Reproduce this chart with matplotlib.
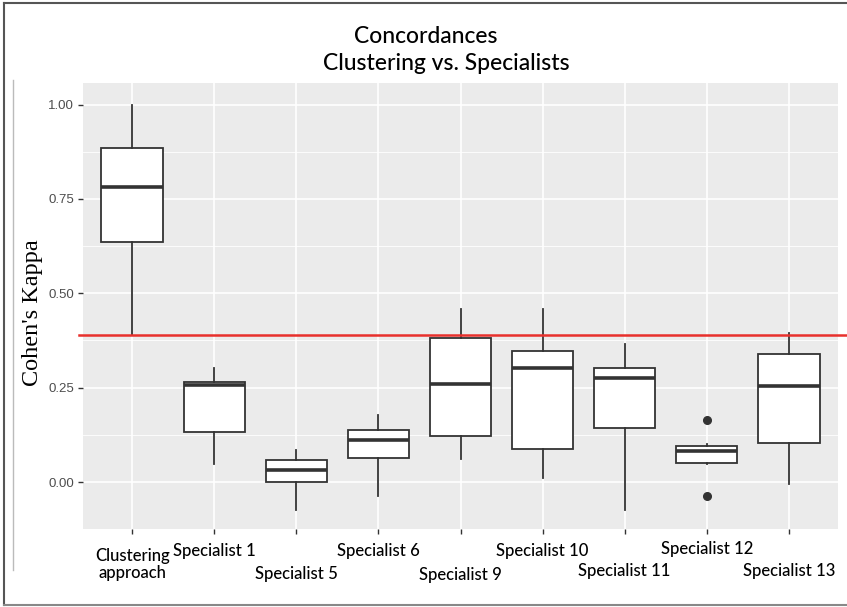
import matplotlib
matplotlib.use("Agg")
import matplotlib.pyplot as plt
import matplotlib.transforms as mtransforms
from matplotlib.lines import Line2D

# Box statistics per rater (Cohen's kappa against the reference labels)
categories = ["Clustering\napproach", "Specialist 1", "Specialist 5", "Specialist 6",
              "Specialist 9", "Specialist 10", "Specialist 11", "Specialist 12",
              "Specialist 13"]
whisker_low = [0.389, 0.048, -0.074, -0.037, 0.060, 0.010, -0.074, 0.048, -0.006]
q1 = [0.635, 0.133, 0.001, 0.063, 0.122, 0.087, 0.142, 0.051, 0.104]
median = [0.781, 0.257, 0.032, 0.110, 0.259, 0.301, 0.275, 0.081, 0.254]
q3 = [0.884, 0.266, 0.058, 0.138, 0.381, 0.348, 0.301, 0.095, 0.339]
whisker_high = [1.000, 0.301, 0.085, 0.177, 0.458, 0.458, 0.366, 0.100, 0.394]
outliers = [[], [], [], [], [], [], [], [0.163, -0.037], []]
threshold = 0.389

y_ticks = [0.0, 0.25, 0.50, 0.75, 1.00]
y_minor = [-0.125, 0.125, 0.375, 0.625, 0.875]

W, H = 847, 607
fig = plt.figure(figsize=(W / 100, H / 100), dpi=100)
ax = fig.add_axes([83 / W, 1 - 529 / H, (838 - 83) / W, (529 - 83) / H])
ax.set_facecolor("#EBEBEB")

pos = list(range(1, len(categories) + 1))
stats = []
for i in range(len(categories)):
    stats.append(dict(whislo=whisker_low[i], q1=q1[i], med=median[i], q3=q3[i],
                      whishi=whisker_high[i], fliers=outliers[i]))

ax.bxp(stats, positions=pos, widths=0.75, patch_artist=True, showcaps=False,
       boxprops=dict(facecolor="white", edgecolor="#333333", linewidth=1.3),
       medianprops=dict(color="#333333", linewidth=2.6, solid_capstyle="butt"),
       whiskerprops=dict(color="#333333", linewidth=1.3),
       flierprops=dict(marker="o", markerfacecolor="#333333", markeredgecolor="#333333",
                       markersize=5.5),
       zorder=3)

# grid
for y in y_ticks:
    ax.axhline(y, color="white", lw=1.2, zorder=1)
for y in y_minor:
    ax.axhline(y, color="white", lw=0.6, zorder=1)
for x in pos:
    ax.axvline(x, color="white", lw=1.2, zorder=1)

ax.set_xlim(0.4, len(categories) + 0.6)
ax.set_ylim(-0.1245, 1.057)
for s in ax.spines.values():
    s.set_visible(False)

ax.set_yticks(y_ticks)
ax.set_yticklabels(["%.2f" % v for v in y_ticks], fontsize=9.5, color="#4D4D4D",
                   family="Liberation Sans")
ax.set_xticks(pos)
ax.set_xticklabels([])
ax.tick_params(axis="both", length=3.5, width=1, color="#333333", pad=3)

# threshold line runs past the panel edges
blend = mtransforms.blended_transform_factory(ax.transAxes, ax.transData)
ax.add_line(Line2D([-0.005, 1.02], [threshold, threshold], transform=blend,
                   color="#E8302C", lw=1.8, clip_on=False, zorder=4))

# staggered category labels
label_top = [548, 543, 566, 543, 567, 543, 563, 541, 563]
for x, lab, top in zip(pos, categories, label_top):
    tr = mtransforms.blended_transform_factory(ax.transData, fig.transFigure)
    ax.text(x, 1 - top / H, lab, transform=tr, ha="center", va="top",
            fontsize=12, family="Lato", weight=500, color="black", linespacing=1.05)

ax.set_ylabel("Cohen's Kappa", family="Liberation Serif", fontsize=17.5, labelpad=0)
ax.yaxis.set_label_coords(43 / W, 1 - 313 / H, transform=fig.transFigure)

fig.text(426 / W, 1 - 43 / H, "Concordances", ha="center", va="baseline",
         fontsize=16.5, family="Lato", weight=500)
fig.text(446 / W, 1 - 70 / H, "Clustering vs. Specialists", ha="center",
         va="baseline", fontsize=16.5, family="Lato", weight=500)

# frame lines around the figure
fig.add_artist(Line2D([4 / W, 4 / W], [1 - 3 / H, 1 - 605 / H], color="#555555", lw=1.5,
                      transform=fig.transFigure))
fig.add_artist(Line2D([4 / W, 1], [1 - 3 / H, 1 - 3 / H], color="#555555", lw=1.5,
                      transform=fig.transFigure))
fig.add_artist(Line2D([4 / W, 1], [1 - 605 / H, 1 - 605 / H], color="#888888", lw=1.5,
                      transform=fig.transFigure))
fig.add_artist(Line2D([13 / W, 13 / W], [1 - 80 / H, 1 - 570 / H], color="#BBBBBB", lw=1,
                      transform=fig.transFigure))

fig.savefig("out.png", dpi=100)
